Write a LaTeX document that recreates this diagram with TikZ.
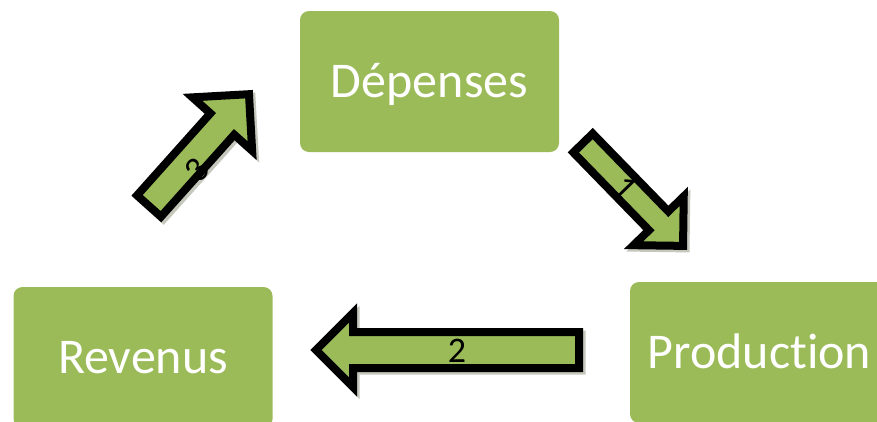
\documentclass[tikz,border=0pt]{standalone}
\usepackage{fontspec}
\setmainfont[Ligatures=NoCommon]{Carlito}
\definecolor{boxgreen}{RGB}{155,187,89}
\definecolor{shadegray}{RGB}{125,130,105}

% Block arrow: tail centre, direction angle, length, shaft half-width, head half-width
\newcommand\blockarrow[5]{%
  \begin{scope}[shift={(#1)}, shift={(2.5,2.5)}, rotate=#2]
    \path[blockshade] (0,-#4) -- ({#3-#5},-#4) -- ({#3-#5},-#5) -- (#3,0)
      -- ({#3-#5},#5) -- ({#3-#5},#4) -- (0,#4) -- cycle;
  \end{scope}
  \begin{scope}[shift={(#1)}, rotate=#2]
    \path[blockline] (0,-#4) -- ({#3-#5},-#4) -- ({#3-#5},-#5) -- (#3,0)
      -- ({#3-#5},#5) -- ({#3-#5},#4) -- (0,#4) -- cycle;
  \end{scope}}

\begin{document}
\begin{tikzpicture}[x=1pt, y=-1pt,
  stage/.style={rounded corners=9pt, fill=boxgreen, minimum width=259pt,
    minimum height=141pt, inner sep=0pt, text=white,
    font=\fontsize{50}{60}\selectfont, text height=32pt, text depth=0pt},
  blockline/.style={draw=black, line width=8pt, line join=miter, fill=boxgreen},
  blockshade/.style={draw=shadegray, fill=shadegray, line width=8pt,
    line join=miter, opacity=0.45},
  steplabel/.style={font=\fontsize{36}{42}\selectfont, inner sep=0pt}]
\useasboundingbox (0,0) rectangle (877,421);
\begin{scope}
  \clip (0,0) rectangle (877,421);

  % the three stages of the cycle
  \node[stage] (dep)  at (429.5,81.5)  {Dépenses};
  \node[stage] (rev)  at (143,357.5)   {Revenus};
  \node[stage] (prod) at (759.5,352.5) {Production};

  % tails of the block arrows
  \coordinate (t1) at (583,143);
  \coordinate (t2) at (579,350);
  \coordinate (t3) at (149,206);

  \blockarrow{t1}{-45.8}{143.5}{13.5}{35}
  \blockarrow{t2}{180}{263}{18}{37}
  \blockarrow{t3}{48.2}{150}{16}{40}

  \node[steplabel, rotate=-45.8] (n1) at (625,188) {1};
  \node[steplabel] (n2) at (457,351) {2};
  \node[steplabel, rotate=48.2] (n3) at (197,170) {3};
\end{scope}
\end{tikzpicture}
\end{document}
